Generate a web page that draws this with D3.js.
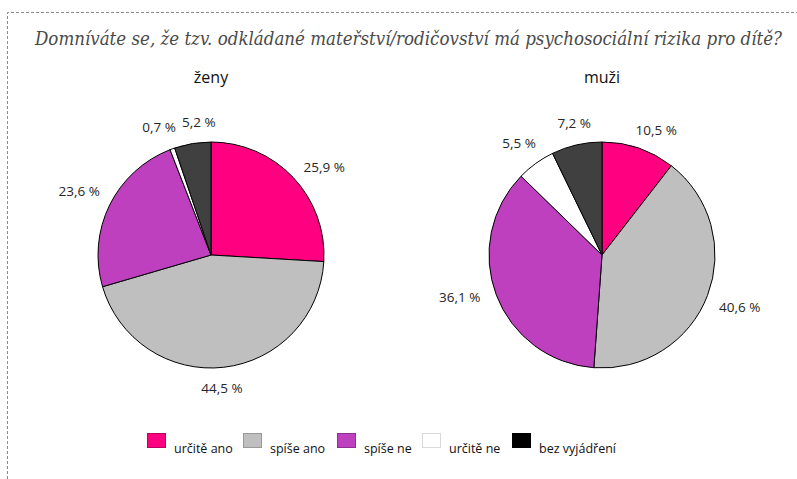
<!DOCTYPE html>
<html>
<head>
<meta charset="utf-8">
<script src="https://cdn.jsdelivr.net/npm/d3@7"></script>
<style>
  body { margin: 0; background: white; }
  svg { display: block; }
</style>
</head>
<body>
<div id="chart"></div>
<script>
// data
const categories = ["určitě ano", "spíše ano", "spíše ne", "určitě ne", "bez vyjádření"];
const zenyValues = [25.9, 44.5, 23.6, 0.7, 5.2];
const muziValues = [10.5, 40.6, 36.1, 5.5, 7.2];
const groups = ["ženy", "muži"];
const sliceColors = ["#ff0080", "#bfbfbf", "#bf40bf", "#ffffff", "#404040"];
const legendColors = ["#ff0080", "#bfbfbf", "#bf40bf", "#ffffff", "#000000"];
const legendStrokes = ["#c0005f", "#999999", "#8f2f8f", "#d9d9d9", "#000000"];

let width = 797, height = 479;

let svg = d3.select("#chart")
  .append("svg")
  .attr("width", width)
  .attr("height", height);

// dashed frame (top + left)
svg.append("path")
  .attr("d", "M7.5,479 L7.5,12.5 L797,12.5")
  .attr("fill", "none")
  .attr("stroke", "#8c8c8c")
  .attr("stroke-width", 1)
  .attr("stroke-dasharray", "3,2");

svg.append("text")
  .attr("x", 35)
  .attr("y", 45)
  .attr("textLength", 747)
  .attr("lengthAdjust", "spacingAndGlyphs")
  .style("font-family", "'DejaVu Serif Condensed', 'DejaVu Serif', serif")
  .style("font-stretch", "condensed")
  .style("font-style", "italic")
  .style("font-weight", "300")
  .style("font-size", "18px")
  .style("fill", "#4a4a4a")
  .text("Domníváte se, že tzv. odkládané mateřství/rodičovství má psychosociální rizika pro dítě?");

const radius = 113;
const centers = [211, 602];
const cy = 255;

const pie = d3.pie().sort(null).value(d => d);
const arc = d3.arc().innerRadius(0).outerRadius(radius);
const fmt = d => d3.format(".1f")(d).replace(".", ",") + " %";

[zenyValues, muziValues].forEach(function (vals, gi) {
  let g = svg.append("g").attr("transform", `translate(${centers[gi]},${cy})`);

  g.append("text")
    .attr("x", 0)
    .attr("y", -172)
    .attr("text-anchor", "middle")
    .style("font-family", "'Open Sans', sans-serif")
    .style("font-size", "16px")
    .style("fill", "#111")
    .text(groups[gi]);

  let arcs = pie(vals);

  g.selectAll("path.slice")
    .data(arcs)
    .join("path")
    .attr("class", "slice")
    .attr("d", arc)
    .attr("fill", (d, i) => sliceColors[i])
    .attr("stroke", "#000")
    .attr("stroke-width", 1);

  // labels just outside the edge
  let labels = g.selectAll("text.lab")
    .data(arcs)
    .join("text")
    .attr("class", "lab")
    .attr("text-anchor", "middle")
    .style("font-family", "'Open Sans', sans-serif")
    .style("font-size", "13.5px")
    .style("fill", "#262626")
    .text(d => fmt(d.data));

  let pos = arcs.map(function (d) {
    let a = (d.startAngle + d.endAngle) / 2 + 0.04;
    return {
      x: Math.sin(a) * (radius + 13) + Math.sin(a) * 24,
      y: -Math.cos(a) * (radius + 13) - Math.cos(a) * 8 + 4.5
    };
  });
  labels.each(function (d, i) { pos[i].w = this.getComputedTextLength(); });

  // push overlapping labels apart sideways
  for (let k = 0; k < 20; k++) {
    for (let i = 0; i < pos.length; i++) {
      for (let j = i + 1; j < pos.length; j++) {
        let a = pos[i], b = pos[j];
        let need = (a.w + b.w) / 2 + 6;
        if (Math.abs(a.y - b.y) < 15 && Math.abs(a.x - b.x) < need) {
          let shift = (need - Math.abs(a.x - b.x)) / 2;
          if (a.x < b.x) { a.x -= shift; b.x += shift; }
          else { a.x += shift; b.x -= shift; }
        }
      }
    }
  }
  labels.attr("x", (d, i) => pos[i].x).attr("y", (d, i) => pos[i].y);
});

// legend
const legendX = [147, 243, 337, 422, 512];
let legend = svg.append("g");
categories.forEach(function (c, i) {
  legend.append("rect")
    .attr("x", legendX[i] + 0.5)
    .attr("y", 433.5)
    .attr("width", 18)
    .attr("height", 14)
    .attr("fill", legendColors[i])
    .attr("stroke", legendStrokes[i]);
  legend.append("text")
    .attr("x", legendX[i] + 27)
    .attr("y", 453)
    .style("font-family", "'Open Sans', sans-serif")
    .style("font-size", "12.5px")
    .style("fill", "#111")
    .text(c);
});
</script>
</body>
</html>
